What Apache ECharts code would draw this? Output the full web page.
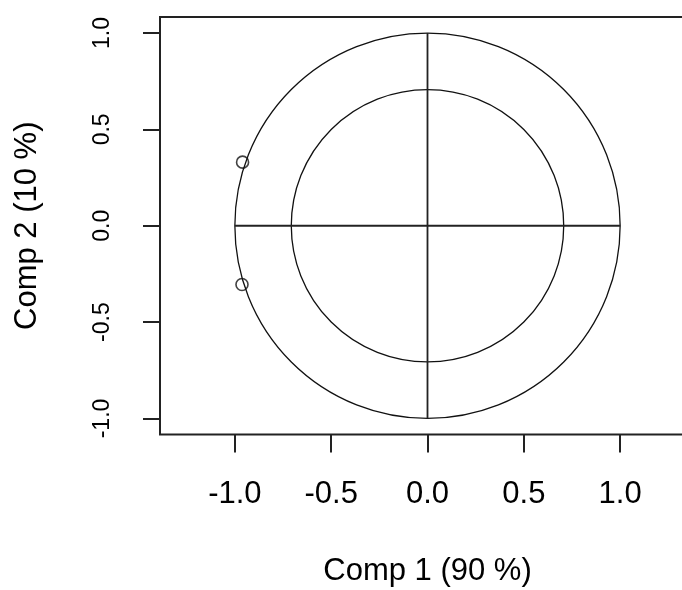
<!DOCTYPE html>
<html>
<head>
<meta charset="utf-8">
<script src="https://cdn.jsdelivr.net/npm/echarts@6/dist/echarts.min.js"></script>
<style>
  html, body { margin: 0; padding: 0; background: #fff; }
  #chart { width: 682px; height: 590px; }
</style>
</head>
<body>
<div id="chart"></div>
<script>
// Correlation circle: variables projected on the first two components
const varX = [-0.960, -0.963];
const varY = [0.330, -0.305];

// Reference circles (unit circle and radius sqrt(0.5))
const circleRadii = [1, 0.7071];

// Axis cross through the origin
const hLine = [[-1, 0], [1, 0]];
const vLine = [[0, -1], [0, 1]];

const tickValues = [-1, -0.5, 0, 0.5, 1];
const tickLabels = ['-1.0', '-0.5', '0.0', '0.5', '1.0'];

const xTitle = 'Comp 1 (90 %)';
const yTitle = 'Comp 2 (10 %)';

const FONT = '"Liberation Sans", Arial, sans-serif';
const labelFor = v => {
  const i = tickValues.findIndex(t => Math.abs(t - v) < 1e-9);
  return i >= 0 ? tickLabels[i] : '';
};

const chart = echarts.init(document.getElementById('chart'), null, { renderer: 'canvas' });

chart.setOption({
  animation: false,
  backgroundColor: '#fff',
  grid: {
    left: 160, top: 17, width: 535, height: 417.5,
    show: true, borderColor: '#222', borderWidth: 2,
    backgroundColor: 'transparent',
    outerBoundsMode: 'none', containLabel: false
  },
  xAxis: {
    type: 'value', min: -1.3886, max: 1.3886,
    axisLine: { show: false, onZero: false },
    splitLine: { show: false },
    axisTick: { show: true, inside: false, length: 18, customValues: tickValues,
      lineStyle: { color: '#222', width: 2 } },
    axisLabel: { customValues: tickValues, formatter: labelFor, margin: 44,
      color: '#000', fontSize: 31, fontFamily: FONT },
    name: xTitle, nameLocation: 'middle', nameGap: 121,
    nameTextStyle: { color: '#000', fontSize: 31, fontFamily: FONT }
  },
  yAxis: {
    type: 'value', min: -1.0831, max: 1.0831,
    axisLine: { show: false, onZero: false },
    splitLine: { show: false },
    axisTick: { show: true, inside: false, length: 17, customValues: tickValues,
      lineStyle: { color: '#222', width: 2 } },
    axisLabel: { customValues: tickValues, formatter: labelFor, rotate: 90, margin: 46,
      color: '#000', fontSize: 23, fontFamily: FONT },
    name: yTitle, nameLocation: 'middle', nameGap: 117,
    nameTextStyle: { color: '#000', fontSize: 31, fontFamily: FONT }
  },
  series: [
    {
      type: 'custom',
      coordinateSystem: 'cartesian2d',
      data: circleRadii.map(r => [0, 0, r]),
      renderItem: (params, api) => {
        const c = api.coord([api.value(0), api.value(1)]);
        const r = api.size([api.value(2), 0])[0];
        return {
          type: 'circle',
          shape: { cx: c[0], cy: c[1], r: r },
          style: { fill: 'none', stroke: '#111', lineWidth: 1.3 }
        };
      },
      silent: true, z: 2
    },
    {
      type: 'line', data: hLine, showSymbol: false, silent: true,
      lineStyle: { color: '#222', width: 1.8 }, z: 3
    },
    {
      type: 'line', data: vLine, showSymbol: false, silent: true,
      lineStyle: { color: '#222', width: 1.8 }, z: 3
    },
    {
      type: 'scatter',
      data: varX.map((x, i) => [x, varY[i]]),
      symbol: 'circle', symbolSize: 12,
      itemStyle: { color: 'transparent', borderColor: '#111', borderWidth: 1.6 },
      silent: true, z: 4
    }
  ]
});
</script>
</body>
</html>
